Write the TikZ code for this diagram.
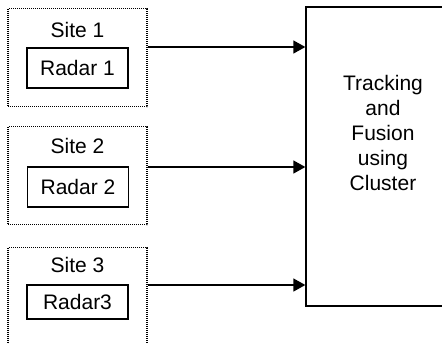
\documentclass[tikz,border=0pt]{standalone}
\usepackage{fontspec}
\setmainfont{Liberation Sans}
\usetikzlibrary{arrows.meta,positioning}

\begin{document}
\begin{tikzpicture}[
  x=1pt,y=-1pt,>={Triangle[length=12pt,width=13pt]},
  site/.style={draw=black,dash pattern=on 1pt off 1pt,line width=1.3pt,
    minimum width=139pt,minimum height=98pt,inner sep=0pt},
  radar/.style={draw=black,line width=1.3pt,minimum width=101pt,
    minimum height=40pt,inner sep=0pt,font=\fontsize{21}{25}\selectfont},
  sitetext/.style={inner sep=0pt,font=\fontsize{21}{25}\selectfont},
  fusion/.style={draw=black,line width=1.3pt,minimum width=154pt,
    minimum height=299pt,inner sep=0pt},
  flow/.style={->,line width=1.3pt,draw=black}
]
\useasboundingbox (0,0) rectangle (442,343);
\clip (0,0) rectangle (442,343);
% three radar sites on the left
\node[site] (site1) at (77.5,57.5) {};
\node[sitetext] (name1) at (77.5,30) {Site 1};
\node[radar] (radar1) at (77.5,68) {Radar 1};
\node[site] (site2) at (77.5,175.5) {};
\node[sitetext] (name2) at (77.5,146) {Site 2};
\node[radar] (radar2) at (78,187) {Radar 2};
\node[site] (site3) at (77.5,296.5) {};
\node[sitetext] (name3) at (77.5,265) {Site 3};
\node[radar,minimum height=34pt] (radar3) at (77.5,302) {Radar3};
% central tracking block, runs past the right edge
\node[fusion] (track) at (383,156.5) {};
\node[sitetext,align=center] (tracklbl) at (383,133) {Tracking\\and\\Fusion\\using\\Cluster};
% site outputs into the tracker
\draw[flow] ([yshift=10.5pt]site1.east) coordinate (out1) -- (out1 -| track.west);
\draw[flow] ([yshift=8.5pt]site2.east) coordinate (out2) -- (out2 -| track.west);
\draw[flow] ([yshift=11.5pt]site3.east) coordinate (out3) -- (out3 -| track.west);
\end{tikzpicture}
\end{document}
